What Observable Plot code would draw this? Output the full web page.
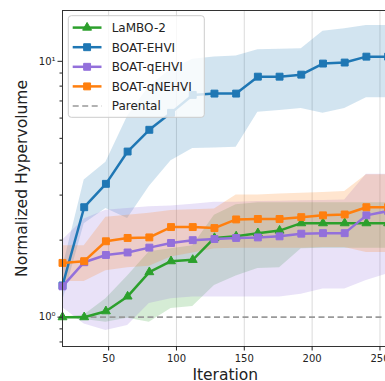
<!DOCTYPE html>
<html>
<head>
<meta charset="utf-8">
<script src="https://cdn.jsdelivr.net/npm/d3@7"></script>
<script src="https://cdn.jsdelivr.net/npm/@observablehq/plot@0.6"></script>
<style>
  html, body { margin: 0; padding: 0; overflow: hidden; background: white; }
  #chart { width: 385px; height: 381px; overflow: hidden; position: relative; }
  #chart svg { max-width: none !important; display: block; }
</style>
</head>
<body>
<div id="chart"></div>
<script>
const iterations = [16, 32, 48, 64, 80, 96, 112, 128, 144, 160, 176, 192, 208, 224, 240, 256];

const lambo    = [1.00, 1.00, 1.055, 1.205, 1.50, 1.655, 1.675, 2.04, 2.07, 2.13, 2.18, 2.33, 2.33, 2.33, 2.33, 2.33];
const lamboLo  = [1.00, 0.98, 0.955, 0.99, 0.955, 1.08, 1.10, 1.33, 1.45, 1.55, 1.56, 1.85, 1.86, 1.86, 1.86, 1.86];
const lamboHi  = [1.00, 1.02, 1.18, 1.45, 1.80, 1.85, 1.90, 2.50, 2.75, 2.80, 2.80, 2.80, 2.80, 2.80, 2.80, 2.80];

const ehvi     = [1.33, 2.69, 3.32, 4.44, 5.40, 6.29, 7.39, 7.48, 7.48, 8.71, 8.71, 8.87, 9.80, 9.89, 10.43, 10.43];
const ehviLo   = [1.15, 2.32, 2.66, 2.43, 3.24, 4.09, 4.56, 4.58, 4.62, 6.32, 6.42, 6.54, 6.26, 6.54, 7.21, 7.21];
const ehviHi   = [1.55, 3.44, 4.03, 6.10, 8.00, 9.30, 10.2, 10.4, 10.5, 11.1, 11.15, 11.2, 13.1, 13.4, 13.8, 13.8];

const qehvi    = [1.32, 1.64, 1.75, 1.79, 1.87, 1.95, 2.00, 2.02, 2.04, 2.05, 2.07, 2.12, 2.13, 2.13, 2.50, 2.60];
const qehviLo  = [1.09, 0.94, 0.887, 0.928, 1.13, 1.18, 1.20, 1.20, 1.20, 1.20, 1.20, 1.23, 1.29, 1.29, 1.39, 1.48];
const qehviHi  = [2.00, 2.42, 2.62, 2.66, 2.70, 2.72, 2.76, 2.81, 2.81, 2.83, 2.84, 2.85, 2.86, 2.87, 3.62, 3.62];

const qnehvi   = [1.63, 1.655, 1.98, 2.04, 2.05, 2.25, 2.25, 2.23, 2.41, 2.42, 2.42, 2.46, 2.50, 2.52, 2.69, 2.69];
const qnehviLo = [1.38, 1.38, 1.52, 1.56, 1.58, 1.72, 1.78, 1.85, 1.86, 1.86, 1.86, 1.86, 1.87, 1.87, 1.79, 1.79];
const qnehviHi = [1.90, 1.90, 2.46, 2.50, 2.55, 2.61, 2.63, 2.65, 3.00, 3.00, 3.03, 3.05, 3.07, 3.10, 3.60, 3.60];

const parental = 1.0;

const seriesNames = ["LaMBO-2", "BOAT-EHVI", "BOAT-qEHVI", "BOAT-qNEHVI"];
const seriesColors = ["#2ca02c", "#1f77b4", "#9370db", "#ff7f0e"];
const seriesSymbols = ["triangle", "square", "square", "square"];
const legendNames = ["LaMBO-2", "BOAT-EHVI", "BOAT-qEHVI", "BOAT-qNEHVI", "Parental"];

const xTicks = [50, 100, 150, 200, 250];
const yMajorTicks = [1, 10];
const yMajorLabels = ["10⁰", "10¹"];
const yMinorTicks = [0.8, 0.9, 2, 3, 4, 5, 6, 7, 8, 9];

const xLabel = "Iteration";
const yLabel = "Normalized Hypervolume";

const seriesData = [
  [lambo, lamboLo, lamboHi],
  [ehvi, ehviLo, ehviHi],
  [qehvi, qehviLo, qehviHi],
  [qnehvi, qnehviLo, qnehviHi]
].map(([m, lo, hi], s) => iterations.map((x, i) => ({x, y: m[i], lo: lo[i], hi: hi[i], s})));

const bandMarks = seriesData.map((d, s) =>
  Plot.areaY(d, {x: "x", y1: "lo", y2: "hi", fill: seriesColors[s], fillOpacity: 0.2}));
const lineMarks = seriesData.flatMap((d, s) => [
  Plot.line(d, {x: "x", y: "y", stroke: seriesColors[s], strokeWidth: 2.5}),
  Plot.dot(d, {x: "x", y: "y", symbol: seriesSymbols[s], fill: seriesColors[s], stroke: seriesColors[s],
               strokeWidth: 1, r: s === 0 ? 3.3 : 3.9})
]);

const fontFamily = "'DejaVu Sans', sans-serif";

const chart = Plot.plot({
  width: 400,
  height: 381,
  marginLeft: 62,
  marginRight: 12.4,
  marginTop: 10,
  marginBottom: 35,
  style: {fontFamily, fontSize: "10px", color: "#222", background: "white", maxWidth: "none"},
  x: {domain: [16, 256]},
  y: {type: "log", domain: [0.768, 15.8]},
  marks: [
    Plot.gridX(xTicks, {stroke: "#b0b0b0", strokeOpacity: 0.45, strokeWidth: 1}),
    ...bandMarks,
    Plot.ruleY([parental], {stroke: "#999", strokeWidth: 1.6, strokeDasharray: "6,3.5"}),
    ...lineMarks,
    Plot.frame({stroke: "#333", strokeWidth: 1}),
    Plot.axisX({ticks: xTicks, tickSize: 4.5, tickPadding: 3.5, label: null, fontSize: 10}),
    Plot.axisY({ticks: yMajorTicks, tickSize: 4.5, tickPadding: 2.5, label: null, fontSize: 10,
                tickFormat: d => yMajorLabels[yMajorTicks.indexOf(d)]}),
    Plot.axisY({ticks: yMinorTicks, tickSize: 2.5, label: null, tickFormat: () => ""}),
    Plot.text([xLabel], {frameAnchor: "bottom", dy: 28.5, fontSize: 15.5, fill: "#222",
                         textAnchor: "middle", lineAnchor: "middle"}),
    Plot.text([yLabel], {frameAnchor: "left", dx: -40.5, rotate: -90, fontSize: 15.5, fill: "#222",
                         textAnchor: "middle", lineAnchor: "middle"})
  ]
});
chart.style.maxWidth = "none";
chart.setAttribute("width", 400);

// Legend
const svg = d3.select(chart);
const lg = svg.append("g").attr("font-family", fontFamily).attr("text-anchor", "start");
lg.append("rect").attr("x", 68.3).attr("y", 15.7).attr("width", 136).attr("height", 101.6)
  .attr("rx", 3).attr("fill", "white").attr("fill-opacity", 0.8).attr("stroke", "#cccccc").attr("stroke-width", 1);
legendNames.forEach((name, i) => {
  const cy = 27.6 + i * 19.6;
  const row = lg.append("g");
  if (i < 4) {
    row.append("line").attr("x1", 72.7).attr("x2", 101.5).attr("y1", cy).attr("y2", cy)
      .attr("stroke", seriesColors[i]).attr("stroke-width", 2.5);
    const sym = seriesSymbols[i] === "triangle" ? d3.symbolTriangle : d3.symbolSquare;
    const r = i === 0 ? 3.3 : 3.9;
    row.append("path").attr("d", d3.symbol(sym, Math.PI * r * r)())
      .attr("transform", `translate(87.1,${cy})`).attr("fill", seriesColors[i]).attr("stroke", seriesColors[i]);
  } else {
    row.append("line").attr("x1", 72.7).attr("x2", 101.5).attr("y1", cy).attr("y2", cy)
      .attr("stroke", "#999").attr("stroke-width", 1.6).attr("stroke-dasharray", "6,3.5");
  }
  row.append("text").attr("x", 111.7).attr("y", cy).attr("dy", "0.36em")
    .attr("text-anchor", "start").attr("font-size", 12).attr("fill", "#222").text(name);
});

document.getElementById("chart").appendChild(chart);
</script>
</body>
</html>
